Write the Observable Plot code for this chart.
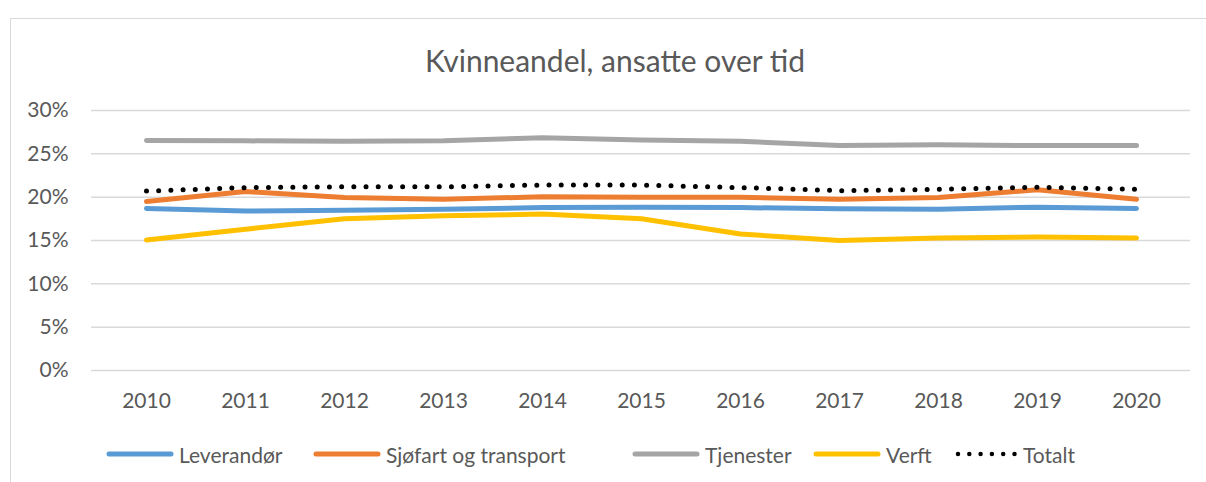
<!DOCTYPE html>
<html>
<head>
<meta charset="utf-8">
<script src="https://cdn.jsdelivr.net/npm/d3@7"></script>
<script src="https://cdn.jsdelivr.net/npm/@observablehq/plot@0.6"></script>
<style>
  html, body { margin: 0; padding: 0; background: #fff; }
  #wrap { position: relative; width: 1206px; height: 482px; overflow: hidden; font-family: Lato, "Open Sans", sans-serif; color: #595959; }
  #border { position: absolute; left: 10px; top: 18px; width: 1400px; height: 700px; border: 1.5px solid #d9d9d9; box-sizing: border-box; }
  #title { position: absolute; left: 0; width: 1230px; top: 42px; text-align: center; font-size: 30px; line-height: 36px; }
  #chart { position: absolute; left: 0; top: 90px; }
  .leg { position: absolute; top: 441px; height: 26px; display: flex; align-items: center; font-size: 21px; white-space: nowrap; }
  .leg svg { margin-right: 5px; }
</style>
</head>
<body>
<div id="wrap">
  <div id="border"></div>
  <div id="title">Kvinneandel, ansatte over tid</div>
  <div id="chart"></div>
</div>
<script>
const years = ["2010","2011","2012","2013","2014","2015","2016","2017","2018","2019","2020"];
const seriesNames = ["Leverandør", "Sjøfart og transport", "Tjenester", "Verft", "Totalt"];
const leverandor = [18.7, 18.4, 18.5, 18.6, 18.8, 18.85, 18.8, 18.65, 18.6, 18.85, 18.7];
const sjofart    = [19.5, 20.65, 19.95, 19.75, 20.05, 20.0, 20.0, 19.75, 19.95, 20.85, 19.75];
const tjenester  = [26.55, 26.5, 26.45, 26.5, 26.85, 26.6, 26.45, 25.95, 26.05, 25.95, 25.95];
const verft      = [15.05, 16.3, 17.5, 17.85, 18.05, 17.5, 15.75, 15.0, 15.3, 15.4, 15.3];
const totalt     = [20.7, 21.1, 21.2, 21.2, 21.4, 21.4, 21.1, 20.75, 20.9, 21.15, 20.9];
const yTicks = [0, 5, 10, 15, 20, 25, 30];

const seriesValues = [leverandor, sjofart, tjenester, verft, totalt];
const colors = ["#5B9BD5", "#ED7D31", "#A5A5A5", "#FFC000", "#000000"];

const rows = [];
seriesNames.forEach((name, i) => {
  seriesValues[i].forEach((v, j) => rows.push({series: name, year: years[j], value: v}));
});
const solid = rows.filter(d => d.series !== "Totalt");
const dotted = rows.filter(d => d.series === "Totalt");

const chart = Plot.plot({
  width: 1206,
  height: 330,
  marginLeft: 91,
  marginRight: 16,
  marginTop: 20,
  marginBottom: 50,
  style: {fontFamily: "Lato, 'Open Sans', sans-serif", fontSize: "21px", color: "#595959", background: "transparent"},
  x: {type: "point", domain: years, padding: 0.5, label: null},
  y: {domain: [0, 30], label: null},
  color: {domain: seriesNames, range: colors},
  marks: [
    Plot.ruleY(yTicks, {stroke: "#d9d9d9", strokeWidth: 1.5}),
    Plot.axisY(yTicks, {tickSize: 0, tickPadding: 23, tickFormat: d => d + "%", label: null}),
    Plot.axisX({tickSize: 0, tickPadding: 23, label: null}),
    Plot.line(solid, {x: "year", y: "value", z: "series", stroke: "series", strokeWidth: 5, strokeLinecap: "round", strokeLinejoin: "round"}),
    Plot.line(dotted, {x: "year", y: "value", stroke: "series", strokeWidth: 5, strokeLinecap: "round", strokeDasharray: "0 12.2"})
  ]
});
document.getElementById("chart").appendChild(chart);

// legend
const legendX = [106, 313, 632, 813, 955];
const wrap = document.getElementById("wrap");
seriesNames.forEach((name, i) => {
  const item = document.createElement("div");
  item.className = "leg";
  item.style.left = legendX[i] + "px";
  const isDot = name === "Totalt";
  const w = isDot ? 62 : 66;
  const dash = isDot ? ' stroke-dasharray="0 11.3"' : "";
  const sw = isDot ? 4.5 : 5;
  item.innerHTML = `<svg width="${w + 2}" height="8"><line x1="3" y1="4" x2="${w - 1}" y2="4" stroke="${colors[i]}" stroke-width="${sw}" stroke-linecap="round"${dash}/></svg><span>${name}</span>`;
  if (isDot) item.querySelector("svg").style.marginRight = "4px";
  wrap.appendChild(item);
});
</script>
</body>
</html>
